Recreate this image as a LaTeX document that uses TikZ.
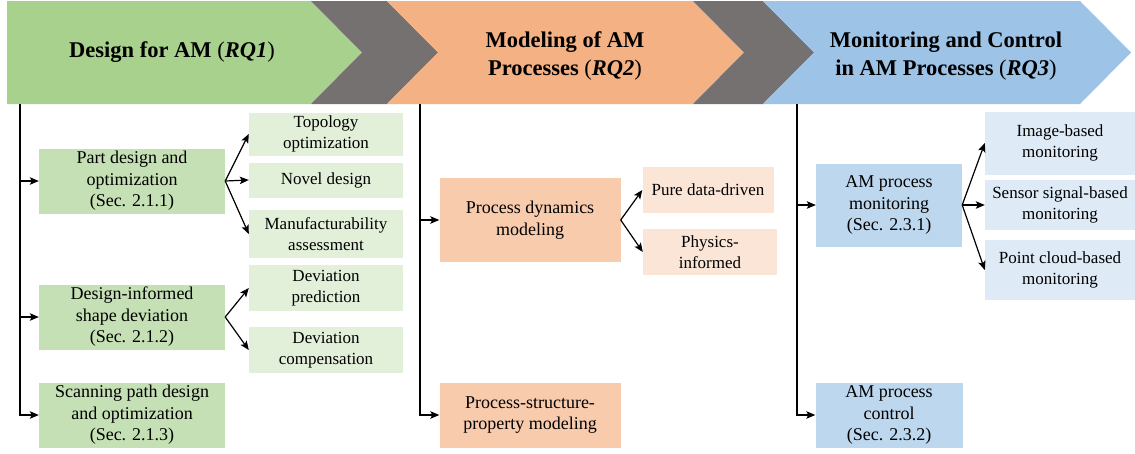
\documentclass[tikz,border=0pt]{standalone}
\usepackage{fontspec}
\setmainfont{Liberation Serif}
\usetikzlibrary{arrows.meta}
\definecolor{grnBan}{HTML}{A9D18E}
\definecolor{grnBox}{HTML}{C5E0B4}
\definecolor{grnSub}{HTML}{E2F0D9}
\definecolor{orgBan}{HTML}{F4B183}
\definecolor{orgBox}{HTML}{F8CBAD}
\definecolor{orgSub}{HTML}{FBE5D6}
\definecolor{bluBan}{HTML}{9DC3E6}
\definecolor{bluBox}{HTML}{BDD7EE}
\definecolor{bluSub}{HTML}{DEEBF7}
\definecolor{gryBan}{HTML}{767171}
\tikzset{
  box/.style = {align=center, inner sep=0pt, text centered,
    font=\fontsize{18}{21.5}\selectfont},% first level box
  sub/.style = {box, font=\fontsize{17}{20.5}\selectfont},% second level box
  title/.style = {align=center, inner sep=0pt,
    font=\fontsize{22.5}{28}\selectfont\bfseries},% banner text
  link/.style = {->, line width=1.2pt}
}
% chevron: left x, right x, notch depth on the left, colour
\newcommand{\chevron}[4]{%
  \fill[#4] (#1,1) -- (#2,1) -- (#2+51,52.5) -- (#2,104) -- (#1,104)
    -- (#1+#3,52.5) -- cycle;}

\begin{document}
\begin{tikzpicture}[x=1pt,y=-1pt,>={Stealth[length=9pt,width=7.5pt,inset=2pt]}]
\useasboundingbox (0,0) rectangle (1135,453);
% banners
\chevron{7}{311}{0}{grnBan}
\chevron{311}{387}{51}{gryBan}
\chevron{387}{693}{51}{orgBan}
\chevron{693}{763}{51}{gryBan}
\chevron{763}{1080}{51}{bluBan}
\node [title] (rq1) at (172,52) {Design for AM {\mdseries(\textit{\bfseries RQ1})}};
\node [title] (rq2) at (565,56) {Modeling of AM\\Processes {\mdseries(\textit{\bfseries RQ2})}};
\node [title] (rq3) at (946,56) {Monitoring and Control\\in AM Processes {\mdseries(\textit{\bfseries RQ3})}};

% RQ1 column
\node [box, fill=grnBox, minimum width=186pt, minimum height=65pt] (part) at (132,181)
  {Part design and\\optimization\\(Sec. 2.1.1)};
\node [box, fill=grnBox, minimum width=186pt, minimum height=65pt] (shape) at (132,317)
  {Design-informed\\shape deviation\\(Sec. 2.1.2)};
\node [box, fill=grnBox, minimum width=186pt, minimum height=65pt] (scan) at (132,415)
  {Scanning path design\\and optimization\\(Sec. 2.1.3)};
\node [sub, fill=grnSub, minimum width=154pt, minimum height=43pt] (topo) at (326,134)
  {Topology\\optimization};
\node [sub, fill=grnSub, minimum width=154pt, minimum height=35pt] (novel) at (326,180)
  {Novel design};
\node [sub, fill=grnSub, minimum width=154pt, minimum height=48pt] (manu) at (326,234)
  {Manufacturability\\assessment};
\node [sub, fill=grnSub, minimum width=154pt, minimum height=46pt] (devpred) at (326,288)
  {Deviation\\prediction};
\node [sub, fill=grnSub, minimum width=154pt, minimum height=46pt] (devcomp) at (326,350)
  {Deviation\\compensation};

% RQ2 column
\node [box, fill=orgBox, minimum width=181pt, minimum height=84pt] (dyn) at (530,220)
  {Process dynamics\\modeling};
\node [box, fill=orgBox, minimum width=181pt, minimum height=65pt] (psp) at (530,415)
  {Process-structure-\\property modeling};
\node [sub, fill=orgSub, minimum width=131pt, minimum height=46pt] (pure) at (708,190)
  {Pure data-driven};
\node [sub, fill=orgSub, minimum width=134pt, minimum height=46pt] (phys) at (710,252)
  {Physics-\\informed};

% RQ3 column
\node [box, fill=bluBox, minimum width=146pt, minimum height=83pt] (mon) at (889,205)
  {AM process\\monitoring\\(Sec. 2.3.1)};
\node [box, fill=bluBox, minimum width=147pt, minimum height=65pt] (ctrl) at (889,415)
  {AM process\\control\\(Sec. 2.3.2)};
\node [sub, fill=bluSub, minimum width=150pt, minimum height=63pt] (img) at (1060,143)
  {Image-based\\monitoring};
\node [sub, fill=bluSub, minimum width=150pt, minimum height=50pt] (sens) at (1060,205)
  {Sensor signal-based\\monitoring};
\node [sub, fill=bluSub, minimum width=150pt, minimum height=60pt] (pcl) at (1060,270)
  {Point cloud-based\\monitoring};

% trunks
\coordinate (t1) at (20,104);
\coordinate (t2) at (420,104);
\coordinate (t3) at (797,104);
\draw [link] (t1) |- (part.west);
\draw [link] (t1) |- (shape.west);
\draw [link] (t1) |- (scan.west);
\draw [link] (t2) |- (dyn.west);
\draw [link] (t2) |- (psp.west);
\draw [link] (t3) |- (mon.west);
\draw [link] (t3) |- (ctrl.west);

% branches
\draw [link] (part.east) -- (topo.west);
\draw [link] (part.east) -- (novel.west);
\draw [link] (part.east) -- (manu.west);
\draw [link] (shape.east) -- (devpred.west);
\draw [link] (shape.east) -- (devcomp.west);
\draw [link] (dyn.east) -- (pure.west);
\draw [link] (dyn.east) -- (phys.west);
\draw [link] (mon.east) -- (img.west);
\draw [link] (mon.east) -- (sens.west);
\draw [link] (mon.east) -- (pcl.west);
\end{tikzpicture}
\end{document}
